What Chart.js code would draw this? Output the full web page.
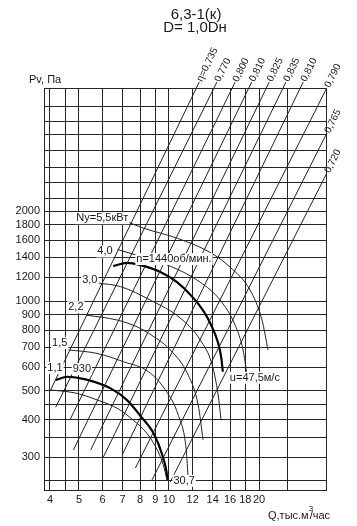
<!DOCTYPE html>
<html>
<head>
<meta charset="utf-8">
<script src="https://cdn.jsdelivr.net/npm/chart.js@4"></script>
<style>
html, body { margin: 0; padding: 0; background: #fff; }
</style>
</head>
<body>
<canvas id="myChart" width="357" height="526"></canvas>
<script>
var titleLines = ['6,3-1(к)', 'D= 1,0Dн'];
var xGrid = [4, 4.5, 5, 6, 7, 8, 9, 10, 12, 14, 16, 18, 20, 25];
var xTickLabels = [4, 5, 6, 7, 8, 9, 10, 12, 14, 16, 18, 20];
var yGrid = [250, 300, 350, 400, 450, 500, 600, 700, 800, 900, 1000, 1200, 1400, 1600, 1800, 2000, 2200, 2500, 2800, 3200, 3600, 4000, 4500];
var yTickLabels = [300, 400, 500, 600, 700, 800, 900, 1000, 1200, 1400, 1600, 1800, 2000];

// fan curve n=1440 rpm (Q thousand m3/h, Pv Pa)
var q1440 = [6.51, 7.24, 8.02, 9.36, 10.64, 12.08, 13.05, 13.73, 14.6, 14.94, 15.14];
var p1440 = [1309, 1343, 1320, 1252, 1157, 1023, 925, 844, 724, 650, 580];
// fan curve n=930 rpm
var q930 = [4.18, 4.57, 5.26, 6.38, 7.24, 8.02, 8.89, 9.48, 9.8, 9.88];
var p930 = [544, 558, 547, 510, 466, 413, 360, 307, 270, 252];

// efficiency lines, [start, end]
var etaLabels = ['η=0,735', '0,770', '0,800', '0,810', '0,825', '0,835', '0,810', '0,790', '0,765', '0,720'];
var etaQ = [[4.02, 12.62], [4.18, 14.46], [4.66, 16.64], [4.79, 18.9], [5.47, 21.64], [6.03, 24.6], [6.97, 28.1], [7.72, 33.7], [8.78, 33.7], [10.1, 33.7]];
var etaP = [[504, 5412], [441, 5412], [399, 5412], [317, 5412], [317, 5412], [300, 5412], [305, 5412], [276, 5174], [252, 3646], [248, 2679]];

// motor power lines Ny, kW
var powerLabels = ['1,1', '1,5', '2,2', '3,0', '4,0', 'Ny=5,5кВт'];
var powerQ = [
    [4.02, 4.87, 5.77, 6.78, 7.6, 8.47, 9.14, 9.57, 9.85],
    [4.61, 5.75, 7.06, 8.55, 9.72, 10.74, 11.42, 11.6],
    [5.30, 6.71, 7.82, 8.55, 10.1, 11.6, 12.52, 13.0],
    [5.81, 6.88, 8.67, 10.91, 12.72, 13.95, 14.6, 14.94],
    [6.73, 8.02, 10.1, 12.72, 14.83, 16.64, 17.69, 18.24],
    [7.31, 8.21, 10.66, 13.73, 16.01, 18.66, 20.47, 21.43]
];
var powerP = [
    [504, 492, 466, 435, 399, 359, 317, 283, 252],
    [686, 668, 626, 580, 504, 415, 317, 252],
    [897, 864, 820, 780, 686, 565, 449, 343],
    [1149, 1118, 1007, 877, 741, 611, 485, 399],
    [1489, 1412, 1309, 1157, 1007, 831, 686, 565],
    [1837, 1755, 1623, 1455, 1299, 1089, 864, 686]
];

// label offsets (px) from the first point of each power line
var powerLabelOffset = [[12, -22], [-1, -7], [-3, -8], [-1, -3.5], [-5, 2], [0, -4]];

var FONT = '"Liberation Sans", Arial, sans-serif';
var INK = '#1a1a1a';
var GRID = '#262626';

function pts(qs, ps) {
    return qs.map(function (q, i) { return { x: q, y: ps[i] }; });
}

var datasets = [];
etaQ.forEach(function (qs, i) {
    datasets.push({ data: pts(qs, etaP[i]), borderColor: '#222', borderWidth: 1, clip: false });
});
powerQ.forEach(function (qs, i) {
    datasets.push({ data: pts(qs, powerP[i]), borderColor: '#222', borderWidth: 1, cubicInterpolationMode: 'monotone' });
});
datasets.push({ data: pts(q1440, p1440), borderColor: '#000', borderWidth: 2.2, cubicInterpolationMode: 'monotone' });
datasets.push({ data: pts(q930, p930), borderColor: '#000', borderWidth: 2.2, cubicInterpolationMode: 'monotone' });
datasets.forEach(function (d) { d.showLine = true; d.pointRadius = 0; d.fill = false; });

function boxText(ctx, text, x, y, align) {
    var w = ctx.measureText(text).width;
    var left = align === 'right' ? x - w : (align === 'center' ? x - w / 2 : x);
    ctx.fillStyle = '#fff';
    ctx.fillRect(left - 1, y - 6, w + 2, 12);
    ctx.fillStyle = INK;
    ctx.textAlign = 'left';
    ctx.textBaseline = 'middle';
    ctx.fillText(text, left, y);
}

var annotate = {
    id: 'annotate',
    beforeDatasetsDraw: function (chart) {
        var a = chart.chartArea, ctx = chart.ctx;
        ctx.save();
        ctx.strokeStyle = GRID;
        ctx.lineWidth = 1;
        ctx.strokeRect(Math.round(a.left) + 0.5, Math.round(a.top) + 0.5, Math.round(a.right - a.left), Math.round(a.bottom - a.top));
        ctx.restore();
    },
    afterDraw: function (chart) {
        var ctx = chart.ctx, xs = chart.scales.x, ys = chart.scales.y;
        function px(q) { return xs.getPixelForValue(q); }
        function py(p) { return ys.getPixelForValue(p); }
        ctx.save();

        // title
        ctx.fillStyle = INK;
        ctx.font = '15px ' + FONT;
        ctx.textAlign = 'center';
        ctx.textBaseline = 'middle';
        ctx.fillText(titleLines[0], 196, 15);
        ctx.fillText(titleLines[1], 195, 28);

        // axis titles
        ctx.font = '11px ' + FONT;
        ctx.textAlign = 'left';
        ctx.fillText('Pv, Па', 29, 80);
        ctx.textBaseline = 'alphabetic';
        var t1 = 'Q,тыс.м';
        ctx.fillText(t1, 268, 519);
        var w1 = ctx.measureText(t1).width;
        ctx.font = '8px ' + FONT;
        ctx.fillText('3', 268 + w1, 511);
        ctx.font = '11px ' + FONT;
        ctx.fillText('/час', 268 + w1 + 1, 519);

        // efficiency labels along the lines
        ctx.font = '10px ' + FONT;
        etaQ.forEach(function (qs, i) {
            var x0 = px(qs[0]), y0 = py(etaP[i][0]);
            var x1 = px(qs[1]), y1 = py(etaP[i][1]);
            ctx.save();
            ctx.translate(x1, y1);
            ctx.rotate(Math.atan2(y1 - y0, x1 - x0));
            ctx.fillStyle = INK;
            ctx.textAlign = 'left';
            ctx.textBaseline = 'middle';
            ctx.fillText(etaLabels[i], 1, 0);
            ctx.restore();
        });

        // power labels
        ctx.font = '11px ' + FONT;
        powerLabels.forEach(function (t, i) {
            var x = px(powerQ[i][0]) + powerLabelOffset[i][0];
            var y = py(powerP[i][0]) + powerLabelOffset[i][1];
            boxText(ctx, t, x, y, 'right');
        });

        // speed labels
        var n = q1440.length - 1, m = q930.length - 1;
        boxText(ctx, 'n=1440об/мин.', px(q1440[2]) - 4, py(p1440[2]) - 6, 'left');
        boxText(ctx, 'u=47,5м/с', px(q1440[n]) + 7, py(p1440[n]) + 6, 'left');
        boxText(ctx, '930', px(q930[0]) + 17, py(p930[0]) - 11, 'left');
        boxText(ctx, '30,7', px(q930[m]) + 6, py(p930[m]) + 1, 'left');
        ctx.restore();
    }
};

var ctx = document.getElementById('myChart').getContext('2d');
var myChart = new Chart(ctx, {
    type: 'scatter',
    data: { datasets: datasets },
    options: {
        responsive: false,
        animation: false,
        events: [],
        layout: { padding: { top: 88, right: 31, left: 0, bottom: 0 } },
        plugins: { legend: { display: false }, tooltip: { enabled: false } },
        scales: {
            x: {
                type: 'logarithmic',
                min: 3.82,
                max: 33.5,
                afterBuildTicks: function (s) { s.ticks = xGrid.map(function (v) { return { value: v }; }); },
                afterFit: function (s) { s.height = 36; },
                grid: { color: GRID, lineWidth: 1, drawTicks: false },
                border: { color: GRID },
                ticks: {
                    autoSkip: false, maxRotation: 0, padding: 3, color: INK,
                    font: { family: FONT, size: 11 },
                    callback: function (v) { return xTickLabels.indexOf(v) >= 0 ? String(v) : ''; }
                }
            },
            y: {
                type: 'logarithmic',
                min: 233,
                max: 5170,
                afterBuildTicks: function (s) { s.ticks = yGrid.map(function (v) { return { value: v }; }); },
                afterFit: function (s) { s.width = 44; },
                grid: { color: GRID, lineWidth: 1, drawTicks: false },
                border: { color: GRID },
                ticks: {
                    autoSkip: false, padding: 4, color: INK,
                    font: { family: FONT, size: 11 },
                    callback: function (v) { return yTickLabels.indexOf(v) >= 0 ? String(v) : ''; }
                }
            }
        }
    },
    plugins: [annotate]
});
</script>
</body>
</html>
